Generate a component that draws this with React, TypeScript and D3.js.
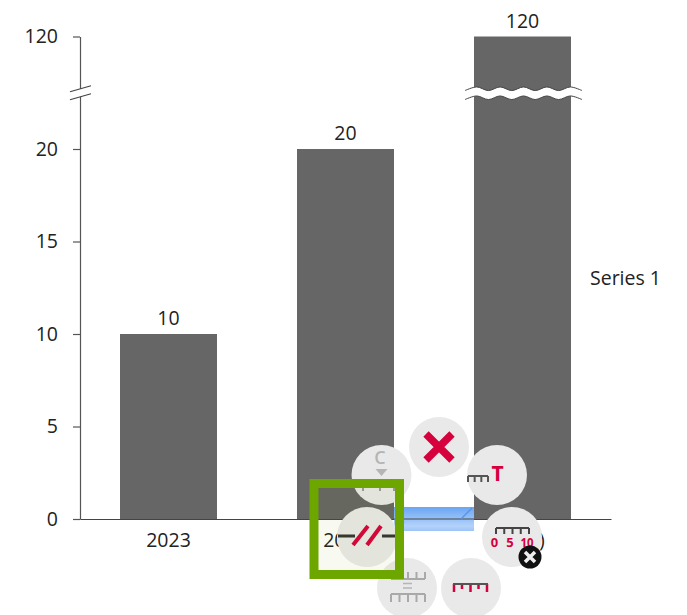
import React, { useEffect, useRef } from "react";
import * as d3 from "d3";

const categories = ["2023", "2024", "(n.a.)"];
const seriesValues = [10, 20, 120];
const yTickValues = [0, 5, 10, 15, 20, 120];
const seriesName = "Series 1";
const scaleBreakValue = 70;

const FONT = "'Open Sans', sans-serif";
const TEXT = "#222";
const BAR = "#666666";
const RED = "#d6003c";

const x = d3.scaleBand<string>().domain(categories).range([80, 611]).paddingInner(0.452).paddingOuter(0.226);
// Piecewise value axis: 0-20 is linear, everything above is squeezed past the break.
const y = d3.scaleLinear().domain([0, 20, 120]).range([519, 149, 36.5]);

const waveXs = d3.range(0, 11).map((i) => 465 + i * 11.7);
const waveLine = (base: number) =>
  d3.line<number>().x((d) => d).y((_, i) => base + (i % 2 ? -1.8 : 1.8)).curve(d3.curveCatmullRom)(waveXs) ?? "";
const waveBand = d3
  .area<number>()
  .x((d) => d)
  .y0((_, i) => y(scaleBreakValue) - 4 + (i % 2 ? -1.8 : 1.8))
  .y1((_, i) => y(scaleBreakValue) + 5 + (i % 2 ? -1.8 : 1.8))
  .curve(d3.curveCatmullRom)(waveXs) ?? "";

function Bubble({ cx, cy }: { cx: number; cy: number }) {
  return <circle cx={cx} cy={cy} r={30} fill="#e9e9e9" />;
}

function Ruler({ x0, y0, w, h = 7, n, color, sw = 2, flip = false }: { x0: number; y0: number; w: number; h?: number; n: number; color: string; sw?: number; flip?: boolean }) {
  const dir = flip ? -1 : 1;
  const ticks = d3.range(n + 1).map((i) => x0 + (w * i) / n);
  return (
    <path
      d={`M${x0},${y0}H${x0 + w}` + ticks.map((t) => `M${t},${y0}v${h * dir}`).join("")}
      fill="none"
      stroke={color}
      strokeWidth={sw}
    />
  );
}

export default function App() {
  const yAxisRef = useRef<SVGGElement>(null);
  const xAxisRef = useRef<SVGGElement>(null);

  useEffect(() => {
    const yg = d3.select(yAxisRef.current!);
    yg.call(d3.axisLeft(y).tickValues(yTickValues).tickFormat(d3.format("d")).tickSize(7).tickPadding(15).tickSizeOuter(0));
    yg.selectAll("path,line").attr("stroke", "#555").attr("stroke-width", 1.2);
    yg.selectAll("text").attr("fill", TEXT).attr("font-size", 19.5).attr("font-family", FONT);

    const xg = d3.select(xAxisRef.current!);
    xg.call(d3.axisBottom(x).tickSize(0).tickPadding(14));
    xg.selectAll("path").attr("stroke", "#444").attr("stroke-width", 1.2);
    xg.selectAll("text").attr("fill", TEXT).attr("font-size", 19.5).attr("font-family", FONT);
  }, []);

  const by = y(scaleBreakValue);

  return (
    <svg width={687} height={615} style={{ position: "absolute", left: 0, top: 0, display: "block" }}>
      <defs>
        <linearGradient id="dropZone" x1="0" y1="0" x2="0" y2="1">
          <stop offset="0" stopColor="#6aa5f4" />
          <stop offset="0.4" stopColor="#8ebcf7" />
          <stop offset="0.8" stopColor="#b4d2fa" />
          <stop offset="1" stopColor="#9cc4f8" />
        </linearGradient>
      </defs>
      <rect width={687} height={615} fill="#fff" />

      {categories.map((c, i) => (
        <g key={c}>
          <rect x={x(c)} y={y(seriesValues[i])} width={x.bandwidth()} height={y(0) - y(seriesValues[i])} fill={BAR} />
          <text x={x(c)! + x.bandwidth() / 2} y={y(seriesValues[i]) - 9} textAnchor="middle" fontFamily={FONT} fontSize={19.5} fill={TEXT}>
            {seriesValues[i]}
          </text>
        </g>
      ))}

      <g ref={yAxisRef} transform="translate(80,0)" />
      <g ref={xAxisRef} transform="translate(0,519)" />

      {/* Axis break marks */}
      <path d={`M70,${by - 1}L91,${by - 7}L91,${by + 1}L70,${by + 7}Z`} fill="#fff" />
      <path d={`M70,${by - 1}L91,${by - 7}M70,${by + 7}L91,${by + 1}`} stroke="#444" strokeWidth={1.2} fill="none" />

      {/* Wavy break across the clipped bar */}
      <path d={waveBand} fill="#fff" />
      <path d={waveLine(by - 4)} fill="none" stroke="#444" strokeWidth={1} />
      <path d={waveLine(by + 5)} fill="none" stroke="#444" strokeWidth={1} />

      <text x={590} y={285} fontFamily={FONT} fontSize={19.5} fill={TEXT}>{seriesName}</text>

      {/* Floating axis tool menu */}
      <rect x={394} y={507} width={80} height={24} fill="url(#dropZone)" />
      <line x1={394} x2={474} y1={519} y2={519} stroke="#444" strokeWidth={1.2} />
      <path d="M461,519L472,508M396,530L404,522" stroke="#5d95e6" strokeWidth={1.5} />

      <Bubble cx={439} cy={447} />
      <path d="M426,434L452,460M452,434L426,460" stroke={RED} strokeWidth={7.5} />

      <Bubble cx={381.5} cy={475} />
      <text x={380} y={464} textAnchor="middle" fontFamily={FONT} fontSize={18} fontWeight={600} fill="#b5b5b5">C</text>
      <path d="M375.500,469H387.500L381.500,476Z" fill="#b5b5b5" />
      <path d="M363,488v3M380,488v3M394,488v3" stroke="#9b9b9b" strokeWidth={2} />

      <Bubble cx={497} cy={475} />
      <Ruler x0={468} y0={476} w={20} n={3} color="#555" h={6} />
      <text x={497.5} y={481} textAnchor="middle" fontFamily={FONT} fontSize={21} fontWeight={700} fill={RED}>T</text>

      <Bubble cx={367} cy={537} />
      <path d="M338,536H355M382,536H397" stroke="#333" strokeWidth={3} fill="none" />
      <path d="M353,545L368,526M367,545L381,526" stroke={RED} strokeWidth={4} />

      <Bubble cx={512} cy={537} />
      <Ruler x0={496} y0={528} w={33} n={4} color="#444" h={6} />
      <g fontFamily={FONT} fontSize={13} fontWeight={700} fill={RED} textAnchor="middle">
        <text x={494.5} y={547}>0</text>
        <text x={510} y={547}>5</text>
        <text x={527} y={547} textLength={13} lengthAdjust="spacingAndGlyphs">10</text>
      </g>

      <Bubble cx={407} cy={588} />
      <Ruler x0={391} y0={579} w={34} n={4} color="#a9a9a9" flip h={7} />
      <path d="M403,583.500h9M403,588h9" stroke="#b5b5b5" strokeWidth={1.5} />
      <Ruler x0={391} y0={594} w={34} n={4} color="#a9a9a9" h={8} />

      <Bubble cx={471} cy={588} />
      <path d="M454,584v8M470.500,584v8M487,584v8M462,584v5M478.500,584v5" stroke={RED} strokeWidth={2.500} />
      <path d="M453,584H488" stroke="#555" strokeWidth={2} />

      <circle cx={530} cy={557} r={11.5} fill="#111" />
      <path d="M525,552L535,562M535,552L525,562" stroke="#eee" strokeWidth={3.500} />

      {/* Selection frame */}
      <rect x={314} y={483.5} width={85.5} height={91} fill="#7aa000" fillOpacity={0.05} stroke="#6ea600" strokeWidth={9} />
    </svg>
  );
}
